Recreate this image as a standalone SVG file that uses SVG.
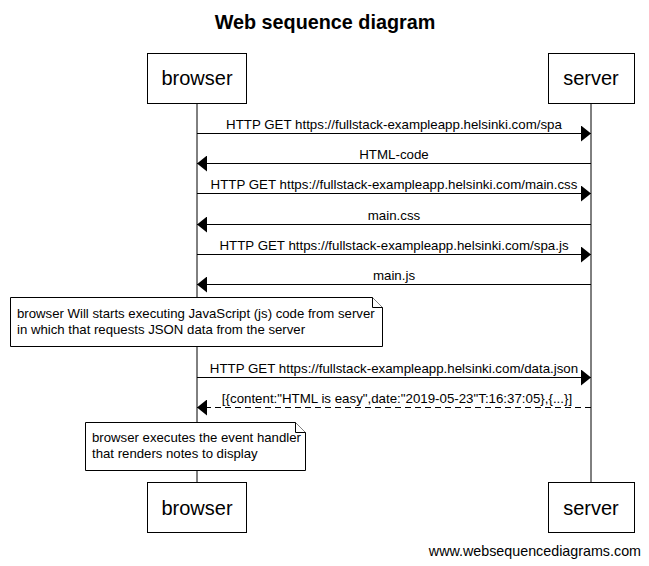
<svg xmlns="http://www.w3.org/2000/svg" width="649" height="566" viewBox="0 0 649 566">
<style>
text{font-family:"Liberation Sans",Arial,sans-serif;fill:#000}
.actor rect{fill:#fff;stroke:#000;stroke-width:1}
.actor text{font-size:20px;text-anchor:middle}
.life{stroke:#000;stroke-width:1}
.msg{stroke:#000;stroke-width:1;fill:none}
.dash{stroke-dasharray:6,4}
.lbl{font-size:13.3px;text-anchor:middle}
.note path{fill:#fff;stroke:#000;stroke-width:1}
.note text{font-size:13.2px}
</style>
<defs>
<marker id="ah" markerWidth="10" markerHeight="16" refX="10" refY="8" orient="auto" markerUnits="userSpaceOnUse"><path d="M0,0 L10,8 L0,16 Z" fill="#000"/></marker>
</defs>
<rect width="649" height="566" fill="#fff"/>
<text x="325" y="29" style="font-size:19.8px;font-weight:bold" text-anchor="middle">Web sequence diagram</text>
<g id="lifelines">
<line class="life" x1="197" y1="103" x2="197" y2="483"/>
<line class="life" x1="591" y1="103" x2="591" y2="483"/>
</g>
<g id="browser-top" class="actor"><rect x="147.5" y="53.5" width="99" height="50"/><text x="197" y="85">browser</text></g>
<g id="server-top" class="actor"><rect x="548.5" y="53.5" width="86" height="50"/><text x="591" y="85">server</text></g>
<g id="browser-bottom" class="actor"><rect x="147.5" y="482.5" width="99" height="50"/><text x="197" y="515">browser</text></g>
<g id="server-bottom" class="actor"><rect x="548.5" y="482.5" width="86" height="50"/><text x="591" y="515">server</text></g>
<g id="connectors">
<line class="msg" x1="197" y1="133.5" x2="591" y2="133.5" marker-end="url(#ah)"/>
<text class="lbl" x="394" y="129">HTTP GET https://fullstack-exampleapp.helsinki.com/spa</text>
<line class="msg" x1="591" y1="163.5" x2="197" y2="163.5" marker-end="url(#ah)"/>
<text class="lbl" x="394" y="159">HTML-code</text>
<line class="msg" x1="197" y1="193.5" x2="591" y2="193.5" marker-end="url(#ah)"/>
<text class="lbl" x="394" y="189">HTTP GET https://fullstack-exampleapp.helsinki.com/main.css</text>
<line class="msg" x1="591" y1="224.5" x2="197" y2="224.5" marker-end="url(#ah)"/>
<text class="lbl" x="394" y="220">main.css</text>
<line class="msg" x1="197" y1="254.5" x2="591" y2="254.5" marker-end="url(#ah)"/>
<text class="lbl" x="394" y="250">HTTP GET https://fullstack-exampleapp.helsinki.com/spa.js</text>
<line class="msg" x1="591" y1="284.5" x2="197" y2="284.5" marker-end="url(#ah)"/>
<text class="lbl" x="394" y="280">main.js</text>
<line class="msg" x1="197" y1="377.5" x2="591" y2="377.5" marker-end="url(#ah)"/>
<text class="lbl" x="394" y="373">HTTP GET https://fullstack-exampleapp.helsinki.com/data.json</text>
<line class="msg dash" x1="591" y1="407.5" x2="197" y2="407.5" marker-end="url(#ah)"/>
<text class="lbl" x="397" y="403">[{content:"HTML is easy",date:"2019-05-23"T:16:37:05},{...}]</text>
</g>
<g id="note1" class="note">
<path d="M10.5,297.5 H372.5 L382.5,307.5 V346.5 H10.5 Z"/>
<path d="M372.5,297.5 V307.5 H382.5" fill="none"/>
<text x="17" y="318">browser Will starts executing JavaScript (js) code from server</text>
<text x="17" y="334">in which that requests JSON data from the server</text>
</g>
<g id="note2" class="note">
<path d="M85.5,422.5 H295.5 L305.5,432.5 V470.5 H85.5 Z"/>
<path d="M295.5,422.5 V432.5 H305.5" fill="none"/>
<text x="92" y="442">browser executes the event handler</text>
<text x="92" y="458">that renders notes to display</text>
</g>
<text x="641" y="556" style="font-size:14.3px" text-anchor="end">www.websequencediagrams.com</text>
</svg>
